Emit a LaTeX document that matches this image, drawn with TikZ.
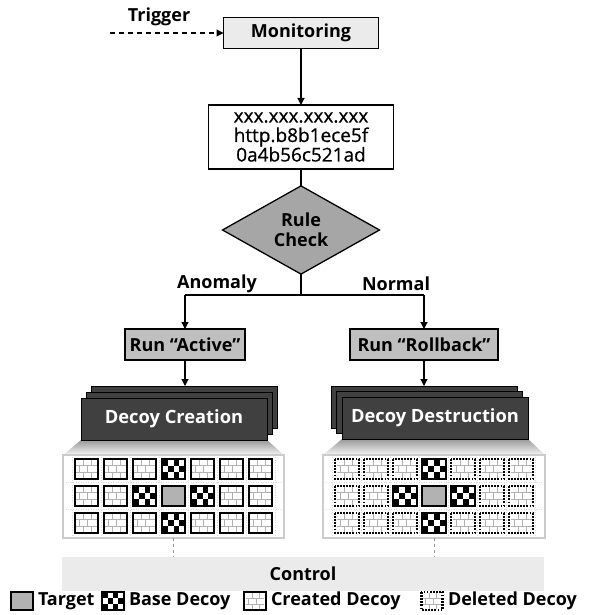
\documentclass[tikz,border=0pt]{standalone}
\usepackage{fontspec}
\setmainfont{Open Sans}
\newfontfamily\infofont{Open Sans}[FakeBold=0.7]
\usetikzlibrary{shapes.geometric,arrows.meta,backgrounds}

\newcommand\brickslines{%
  \draw[black!30,line width=0.6pt]
    (-10.5,-3.3) -- (10.5,-3.3) (-10.5,3.3) -- (10.5,3.3)
    (-3,-9) -- (-3,-3.3) (5,-9) -- (5,-3.3)
    (-7,-3.3) -- (-7,3.3) (1,-3.3) -- (1,3.3)
    (-3,3.3) -- (-3,9) (5,3.3) -- (5,9);}

\tikzset{
  createdicon/.pic={
    \fill[white] (-11.75,-10) rectangle (11.75,10);
    \brickslines
    \draw[line width=2pt] (-11.75,-10) rectangle (11.75,10);},
  deletedicon/.pic={
    \fill[white] (-11.75,-10) rectangle (11.75,10);
    \brickslines
    \draw[line width=2.2pt,dash pattern=on 1.6pt off 1.5pt] (-11.75,-10) rectangle (11.75,10);},
  targeticon/.pic={
    \filldraw[fill=black!30,line width=2pt] (-11.75,-10) rectangle (11.75,10);},
  baseicon/.pic={
    \fill[white] (-11.75,-10) rectangle (11.75,10);
    \foreach \i/\j in {0/0,2/0,1/1,3/1,0/2,2/2}
      \fill[black] ({-11.75+5.875*\i},{-10+6.667*\j}) rectangle ++(5.875,6.667);
    \draw[line width=2pt] (-11.75,-10) rectangle (11.75,10);},
}

\newcommand\decoygrid[2]{%
  \foreach \c in {-3,...,3}{
    \foreach \r in {0,1,2}{
      \pgfmathtruncatemacro\kindno{(\r==1 && \c==0) ? 1 : (((\r!=1 && \c==0) || (\r==1 && abs(\c)==1)) ? 2 : 0)}
      \ifcase\kindno
        \pic at ({#1+29*\c},{469+27*\r}) {#2};
      \or
        \pic at ({#1+29*\c},{469+27*\r}) {targeticon};
      \or
        \pic at ({#1+29*\c},{469+27*\r}) {baseicon};
      \fi
    }}}

\begin{document}
\begin{tikzpicture}[x=1pt,y=-1pt,
  every node/.style={inner sep=0pt,outer sep=0pt},
  bfont/.style={font=\fontsize{18}{20}\selectfont\bfseries},
  conn/.style={line width=1.1pt,-{Triangle[length=7pt,width=7pt]}},
  wire/.style={line width=1.1pt},
  monbox/.style={bfont,draw,line width=1.3pt,fill=black!8,minimum width=155pt,minimum height=31pt},
  infobox/.style={draw,line width=1.3pt,fill=white,minimum width=185pt,minimum height=64pt,align=center,
    font=\fontsize{19}{19.5}\infofont},
  rulebox/.style={bfont,shape=diamond,draw,line width=1.3pt,fill=black!35,minimum width=157pt,minimum height=64pt,align=center},
  runbox/.style={bfont,draw,line width=1.3pt,fill=black!25,minimum height=31pt},
  layer/.style={draw=black,line width=1pt,fill=black!75,minimum width=186pt,minimum height=42pt},
  layertxt/.style={font=\fontsize{18.3}{21}\selectfont\bfseries,text=white},
  panel/.style={draw=black!20,line width=1.5pt,fill=white,minimum height=83pt},
  lbl/.style={bfont},
  legendtxt/.style={font=\fontsize{18}{20}\selectfont\bfseries,anchor=west},
]
\useasboundingbox (0,0) rectangle (595,615);

% top chain
\node[monbox] (mon) at (301,33) {Monitoring};
\coordinate (trig) at (110,33);
\node[lbl] (triglbl) at (159,17) {Trigger};
\draw[conn,dashed,dash pattern=on 5pt off 4pt] (trig) -- (mon.west);

\node[infobox] (info) at (301,137) {xxx.xxx.xxx.xxx\\http.b8b1ece5f\\0a4b56c521ad};
\draw[conn] (mon) -- (info);

\node[rulebox] (rule) at (301,230) {Rule\\Check};
\draw[wire] (info) -- (rule);

\coordinate (split) at (301,295);
\coordinate (lsplit) at (185,295);
\coordinate (rsplit) at (424,295);
\draw[wire] (rule.south) -- (split);
\draw[wire] (lsplit) -- (rsplit);
\node[lbl] (anom) at (217,284) {Anomaly};
\node[lbl] (norm) at (396,284) {Normal};

\node[runbox,minimum width=120pt] (active) at (185,344.5) {Run “Active”};
\node[runbox,minimum width=148pt] (rollback) at (424,344.5) {Run “Rollback”};
\draw[conn] (lsplit) -- (active);
\draw[conn] (rsplit) -- (rollback);

% stacks
\node[layer] (cback) at (184,407) {};
\node[layer] (cmid) at (179,413) {};
\node[layer,layertxt] (cfront) at (174,419) {Decoy Creation};
\node[layer] (dback) at (424,407) {};
\node[layer] (dmid) at (429.5,412.5) {};
\node[layer,layertxt] (dfront) at (435,418) {Decoy Destruction};
\draw[conn] (active.south) -- (active.south |- cback.north);
\draw[conn] (rollback.south) -- (rollback.south |- dback.north);

% panels
\node[panel,minimum width=221pt] (cpanel) at (173.5,496.5) {};
\node[panel,minimum width=222pt] (dpanel) at (434,496.5) {};
\begin{scope}[on background layer]
  \shade[top color=black!40,bottom color=black!4]
    (cfront.south west) -- (cfront.south east) -- (cpanel.north east) -- (cpanel.north west) -- cycle;
  \shade[top color=black!40,bottom color=black!4]
    (dfront.south west) -- (dfront.south east) -- (dpanel.north east) -- (dpanel.north west) -- cycle;
\end{scope}
\foreach \px in {173.5,434}{
  \foreach \k in {-3,...,4}
    \draw[black!15,line width=0.5pt,dotted] ({\px+29*\k-14.5},457) -- ({\px+29*\k-14.5},536);
  \foreach \yy in {482.5,509.5}
    \draw[black!15,line width=0.5pt,dotted] ({\px-108},\yy) -- ({\px+108},\yy);
}
\decoygrid{173.5}{createdicon}
\decoygrid{434}{deletedicon}

% control
\node[bfont,fill=black!8,minimum width=482pt,minimum height=34pt] (ctrl) at (303,574) {Control};
\draw[black!40,line width=0.6pt,dashed] (cpanel.south) -- (cpanel.south |- ctrl.north);
\draw[black!40,line width=0.6pt,dashed] (dpanel.south) -- (dpanel.south |- ctrl.north);

% legend
\pic[scale=0.9] at (22,601) {targeticon};
\node[legendtxt] (lgtarget) at (38,601) {Target};
\pic[scale=0.9] at (113,601) {baseicon};
\node[legendtxt] (lgbase) at (129,601) {Base Decoy};
\pic[scale=0.9] at (255,601) {createdicon};
\node[legendtxt] (lgcreated) at (271,601) {Created Decoy};
\pic[scale=0.9] at (432,601) {deletedicon};
\node[legendtxt] (lgdeleted) at (448,601) {Deleted Decoy};
\end{tikzpicture}
\end{document}
